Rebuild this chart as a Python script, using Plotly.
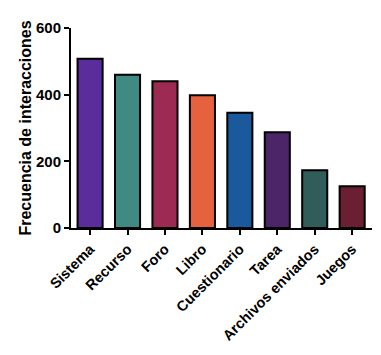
import plotly.graph_objects as go

categories = ["Sistema", "Recurso", "Foro", "Libro", "Cuestionario", "Tarea", "Archivos enviados", "Juegos"]
values = [508, 460, 440, 398, 346, 287, 173, 125]
colors = ["#5b2c9c", "#3f8a82", "#9c2a52", "#e6623e", "#1a5a9c", "#4c2468", "#305c5a", "#6a1f32"]
y_ticks = [0, 200, 400, 600]

fig = go.Figure(go.Bar(
    x=categories, y=values,
    marker=dict(color=colors, line=dict(color="black", width=2)),
    width=0.67,
))

fam = "Liberation Sans, Arial"
fig.update_layout(
    width=381, height=355,
    margin=dict(l=71, r=9, t=28, b=127),
    plot_bgcolor="white", paper_bgcolor="white",
    showlegend=False,
    font=dict(family=fam, color="black"),
)
fig.update_xaxes(
    range=[-0.51, 7.53],
    showline=True, linecolor="black", linewidth=2,
    ticks="outside", ticklen=5, tickwidth=2, tickcolor="black",
    tickangle=-45,
    tickfont=dict(size=14.5, family=fam, weight="bold"),
    showgrid=False, zeroline=False,
)
fig.update_yaxes(
    range=[0, 600], tickvals=y_ticks,
    showline=True, linecolor="black", linewidth=2,
    ticks="outside", ticklen=5, tickwidth=2, tickcolor="black",
    tickfont=dict(size=15, family=fam, weight="bold"),
    title=dict(text="Frecuencia de interacciones", standoff=0,
               font=dict(size=16, family=fam, weight="bold")),
    showgrid=False, zeroline=False,
)

fig.write_html("out.html")
